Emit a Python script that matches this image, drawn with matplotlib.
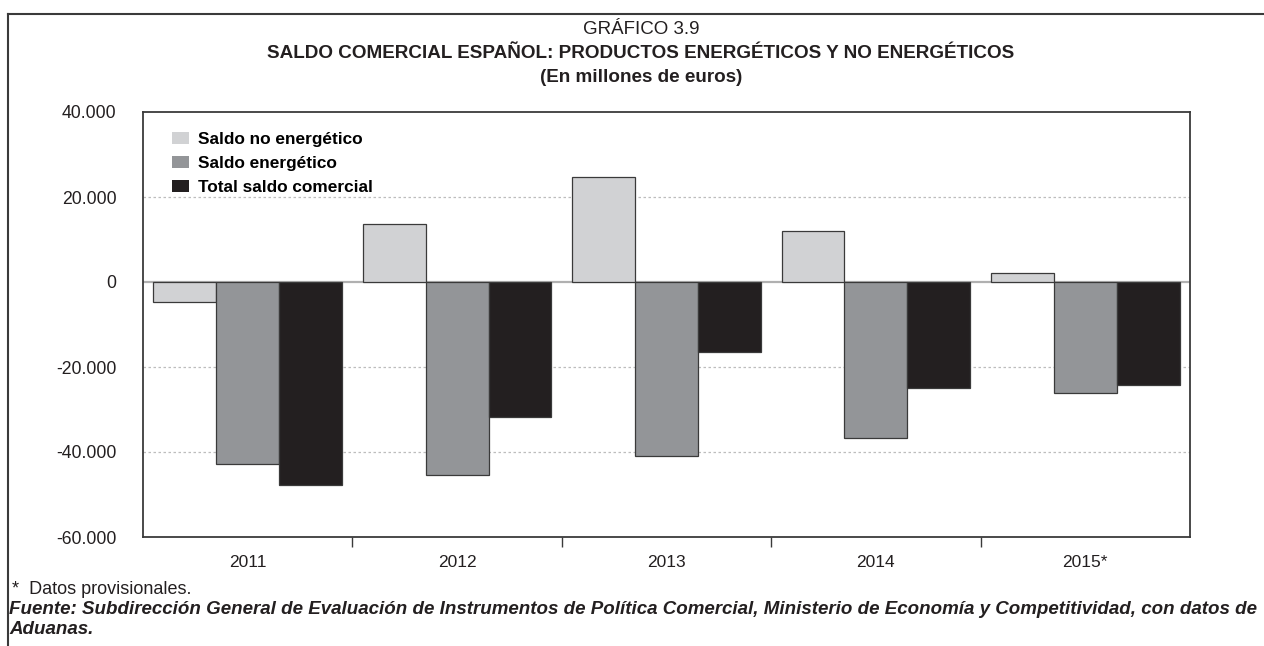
import numpy as np
import matplotlib.pyplot as plt
from matplotlib.lines import Line2D

plt.rcParams['font.family'] = ['Liberation Sans', 'DejaVu Sans']

years = ['2011', '2012', '2013', '2014', '2015*']
no_energetico = [-4800, 13600, 24700, 12000, 2100]
energetico = [-42900, -45300, -41000, -36800, -26200]
total = [-47800, -31800, -16500, -24900, -24200]

series = ['Saldo no energético', 'Saldo energético', 'Total saldo comercial']
colors = ['#d1d2d4', '#939598', '#231f20']

fig = plt.figure(figsize=(12.64, 6.46), dpi=100)
ax = fig.add_axes([143/1264, 1-537/646, (1190-143)/1264, (537-112)/646])

x = np.arange(len(years))
w = 0.3
for i, (vals, c, lab) in enumerate(zip([no_energetico, energetico, total], colors, series)):
    ax.bar(x + (i-1)*w, vals, w, color=c, edgecolor='#3a3a3a', linewidth=0.9,
           label=lab, zorder=3)

ax.set_xlim(-0.5, len(years)-0.5)
ax.set_ylim(-60000, 40000)
yt = [-60000, -40000, -20000, 0, 20000, 40000]
ax.set_yticks(yt)
ax.set_yticklabels([f'{v:,}'.replace(',', '.') for v in yt])
for v in [20000, -20000, -40000]:
    ax.axhline(v, color='#bdbdbd', linestyle=(0, (2, 2)), linewidth=0.9, zorder=1)
ax.axhline(0, color='#b0b0b0', linewidth=1.6, zorder=2)

ax.set_xticks(x)
ax.set_xticklabels(years)
ax.set_xticks(np.arange(len(years)-1) + 0.5, minor=True)
ax.tick_params(axis='x', which='major', length=0, pad=13, labelsize=12.5, colors='#231f20')
ax.tick_params(axis='x', which='minor', length=7, width=1.0, color='#3a3a3a')
ax.tick_params(axis='y', length=0, pad=19, labelsize=12.7, colors='#231f20')
for s in ax.spines.values():
    s.set_color('#3a3a3a')
    s.set_linewidth(1.3)

leg = ax.legend(loc='upper left', bbox_to_anchor=(0.013, 0.99), frameon=False,
                prop={'weight': 'bold', 'size': 12.4}, handlelength=1.0, handleheight=0.75,
                handletextpad=0.5, labelspacing=0.5)
for h in leg.legend_handles:
    h.set_edgecolor('none')

fig.text(0.507, 1-30/646, 'GRÁFICO 3.9', ha='center', va='center', fontsize=13.5, color='#231f20')
fig.text(0.507, 1-53/646, 'SALDO COMERCIAL ESPAÑOL: PRODUCTOS ENERGÉTICOS Y NO ENERGÉTICOS',
         ha='center', va='center', fontsize=13.6, fontweight='bold', color='#231f20')
fig.text(0.507, 1-77/646, '(En millones de euros)', ha='center', va='center',
         fontsize=13.6, fontweight='bold', color='#231f20')

fig.text(12/1264, 1-590/646, '*  Datos provisionales.', ha='left', va='center', fontsize=13, color='#231f20')
fig.text(9/1264, 1-610/646, 'Fuente: Subdirección General de Evaluación de Instrumentos de Política Comercial, '
         'Ministerio de Economía y Competitividad, con datos de', ha='left', va='center',
         fontsize=13.5, fontweight='bold', fontstyle='italic', color='#231f20')
fig.text(9/1264, 1-630/646, 'Aduanas.', ha='left', va='center',
         fontsize=13.5, fontweight='bold', fontstyle='italic', color='#231f20')

# outer frame (top and left only)
fig.add_artist(Line2D([8/1264, 1], [1-14/646, 1-14/646], color='#3a3a3a', linewidth=1.5))
fig.add_artist(Line2D([8/1264, 8/1264], [0, 1-14/646], color='#3a3a3a', linewidth=1.5))

fig.savefig('out.png', dpi=100)
